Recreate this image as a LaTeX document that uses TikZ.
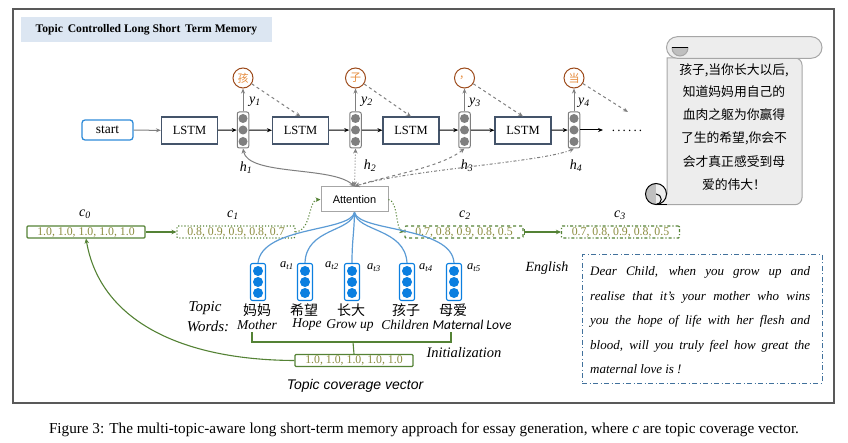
\documentclass[tikz,border=0pt]{standalone}
\usepackage{fontspec}
\setmainfont{Liberation Serif}
\setsansfont{Liberation Sans}
\newfontfamily\cjk{Noto Sans CJK SC}
\newfontfamily\calib{Carlito}
\usetikzlibrary{arrows.meta}

\definecolor{framegray}{HTML}{595959}
\definecolor{titlebg}{HTML}{DCE6F2}
\definecolor{lstmline}{HTML}{44546A}
\definecolor{cellgray}{HTML}{7F7F7F}
\definecolor{outbrown}{HTML}{9C4A1A}
\definecolor{outorange}{HTML}{E58A3A}
\definecolor{startblue}{HTML}{2E8BD8}
\definecolor{topicblue}{HTML}{0B7FE0}
\definecolor{fanblue}{HTML}{5B9BD5}
\definecolor{vecgreen}{HTML}{548235}
\definecolor{vectext}{HTML}{8A8B3E}
\definecolor{engblue}{HTML}{41719C}
\definecolor{scrollfill}{HTML}{EDEDED}
\definecolor{scrolldark}{HTML}{BFBFBF}
\definecolor{scrollline}{HTML}{A6A6A6}
\definecolor{attline}{HTML}{A6A6A6}

% italic symbol with italic subscript
\newcommand{\isub}[2]{\textit{#1}\textsubscript{\textit{#2}}}

\begin{document}
\begin{tikzpicture}[x=1pt,y=-1pt,
  lstm/.style={draw=lstmline, line width=1.1pt, minimum width=56pt, minimum height=27pt, inner sep=0pt, font=\fontsize{12.5}{13}\selectfont},
  startbox/.style={draw=startblue, line width=1.3pt, rounded corners=3pt, minimum width=51pt, minimum height=20pt, inner sep=0pt, font=\fontsize{13.5}{14}\selectfont},
  hcell/.style={draw=cellgray, line width=1pt, rounded corners=2pt, minimum width=11.5pt, minimum height=36pt, inner sep=0pt, fill=white},
  tcell/.style={draw=topicblue, line width=1.1pt, rounded corners=2pt, minimum width=15pt, minimum height=37pt, inner sep=0pt, fill=white},
  outc/.style={circle, draw=outbrown, line width=1pt, minimum size=20pt, inner sep=0pt, text=outorange, font=\cjk\fontsize{11}{11}\selectfont},
  vecbox/.style={draw=vecgreen, line width=1.1pt, rounded corners=1pt, minimum width=118pt, minimum height=12pt, inner sep=0pt, text=vectext, font=\fontsize{11.8}{12}\selectfont},
  attbox/.style={draw=attline, line width=1pt, minimum width=67pt, minimum height=25pt, inner sep=0pt, fill=white, font=\sffamily\fontsize{11}{11}\selectfont},
  blk/.style={-{Stealth[length=5pt,width=4pt]}, line width=1pt, black},
  gry/.style={-{Stealth[length=5pt,width=4pt]}, line width=1pt, cellgray},
  bi/.style={{Stealth[length=5pt,width=4.5pt]}-{Stealth[length=5pt,width=4.5pt]}, line width=1pt, cellgray},
  garrow/.style={-{Stealth[length=5pt,width=4.5pt]}, line width=1.1pt, vecgreen},
  gline/.style={line width=1.1pt, vecgreen},
  fan/.style={line width=1.2pt, fanblue},
  lbl/.style={font=\fontsize{14}{14}\selectfont, inner sep=0pt},
  albl/.style={font=\fontsize{12.5}{13}\selectfont, inner sep=0pt},
  cjkword/.style={font=\cjk\fontsize{14}{14}\selectfont, inner sep=0pt},
  enword/.style={font=\fontsize{13.5}{14}\selectfont\itshape, inner sep=0pt},
  engline/.style={font=\fontsize{13}{13}\selectfont\itshape, inner sep=0pt, anchor=base west},
  scrollline/.style={font=\cjk\fontsize{12.8}{13}\selectfont, inner sep=0pt},
  scroll/.style={draw=scrollline, line width=1pt, fill=scrollfill}
]
\useasboundingbox (0,0) rectangle (848,443);

% outer frame and title
\draw[framegray, line width=1.2pt] (13,9) rectangle (834,403);
\node[fill=titlebg, minimum width=251pt, minimum height=25pt, inner sep=0pt,
      font=\bfseries\fontsize{11.6}{12}\selectfont] (title) at (146.5,29.5)
      {Topic\ \,Controlled Long Short\ \,Term Memory};

% decoder chain
\node[startbox] (start) at (107.5,130) {start};
\node[lstm] (L1) at (189.5,130.5) {LSTM};
\node[hcell] (h1) at (243,130) {};
\node[lstm] (L2) at (300.5,130.5) {LSTM};
\node[hcell] (h2) at (355.5,130) {};
\node[lstm] (L3) at (411,130.5) {LSTM};
\node[hcell] (h3) at (464.5,130) {};
\node[lstm] (L4) at (523,130.5) {LSTM};
\node[hcell] (h4) at (574,130) {};
\foreach \n in {h1,h2,h3,h4}
  \foreach \d in {-11.5,0,11.5}
    \fill[cellgray] ([yshift=\d pt]\n.center) circle (4.5);
\node[font=\fontsize{13}{13}\selectfont, anchor=base, inner sep=0pt] (more) at (627,132) {.\,.\,.\,.\,.\,.};
\coordinate (moreIn) at (603,130);

\draw[gry] (start) -- (L1);
\draw[blk] (L1) -- (h1);
\draw[blk] (h1) -- (L2);
\draw[blk] (L2) -- (h2);
\draw[blk] (h2) -- (L3);
\draw[blk] (L3) -- (h3);
\draw[blk] (h3) -- (L4);
\draw[blk] (L4) -- (h4);
\draw[blk] (h4) -- (moreIn);

% generated characters
\node[outc] (o1) at (243,78) {孩};
\node[outc] (o2) at (355.5,78) {子};
\node[outc] (o3) at (464.5,78) {，};
\node[outc] (o4) at (574,78) {当};
\coordinate (nextIn) at (628,112);
\draw[gry] (h1) -- (o1);
\draw[gry] (h2) -- (o2);
\draw[gry] (h3) -- (o3);
\draw[gry] (h4) -- (o4);
\draw[gry, dashed] (o1) -- (L2.north);
\draw[gry, dashed] (o2) -- (L3.north);
\draw[gry, dashed] (o3) -- (L4.north);
\draw[gry, dashed] (o4) -- (nextIn);

\node[lbl] (ly1) at (255,102) {\isub{y}{1}};
\node[lbl] (ly2) at (367,102) {\isub{y}{2}};
\node[lbl] (ly3) at (475,103) {\isub{y}{3}};
\node[lbl] (ly4) at (584,103) {\isub{y}{4}};
\node[lbl] (lh1) at (246,168) {\isub{h}{1}};
\node[lbl] (lh2) at (370,166) {\isub{h}{2}};
\node[lbl] (lh3) at (467,166) {\isub{h}{3}};
\node[lbl] (lh4) at (576,166) {\isub{h}{4}};

% attention over hidden states
\node[attbox] (att) at (354.5,199.5) {Attention};
\draw[bi] (h1.south) .. controls (248,176) and (332,166) .. (att.north);
\draw[bi, dotted] (h2.south) -- (att.north);
\draw[bi, dashed] (h3.south) .. controls (440,168) and (385,176) .. (att.north);
\draw[bi, dash dot] (h4.south) .. controls (545,162) and (405,170) .. (att.north);

% topic coverage vectors
\node[vecbox] (c0) at (86,232) {1.0, 1.0, 1.0, 1.0, 1.0};
\node[vecbox, dotted] (c1) at (236,232) {0.8, 0.9, 0.9, 0.8, 0.7};
\node[vecbox, dashed] (c2) at (464,232) {0.7, 0.8, 0.9, 0.8, 0.5};
\node[vecbox, dash dot] (c3) at (620.5,232) {0.7, 0.8, 0.9, 0.8, 0.5};
\node[lbl] (lc0) at (85,214) {\isub{c}{0}};
\node[lbl] (lc1) at (233,215) {\isub{c}{1}};
\node[lbl] (lc2) at (465,215) {\isub{c}{2}};
\node[lbl] (lc3) at (620,215) {\isub{c}{3}};
\draw[garrow] (c0) -- (c1);
\draw[garrow, dotted] (c1.east) .. controls (312,230) and (308,200) .. (att.west);
\draw[garrow, dotted] (att.east) .. controls (398,201) and (396,230) .. (c2.west);
\draw[garrow, {Bar[width=6pt]}-{Stealth[length=5pt,width=4.5pt]}] (c2) -- (c3);

% topic word embeddings
\node[tcell] (t1) at (258,282) {};
\node[tcell] (t2) at (305,282) {};
\node[tcell] (t3) at (352,282) {};
\node[tcell] (t4) at (407,282) {};
\node[tcell] (t5) at (454,282) {};
\foreach \n in {t1,t2,t3,t4,t5}
  \foreach \d in {-11,0,11}
    \fill[topicblue] ([yshift=\d pt]\n.center) circle (5);
\draw[fan] (att.south) .. controls (350,232) and (262,226) .. (t1.north);
\draw[fan] (att.south) .. controls (352,232) and (306,228) .. (t2.north);
\draw[fan] (att.south) .. controls (354,235) and (352,240) .. (t3.north);
\draw[fan] (att.south) .. controls (357,232) and (405,228) .. (t4.north);
\draw[fan] (att.south) .. controls (359,232) and (452,226) .. (t5.north);
\node[albl] (a1) at (287,266) {\isub{a}{t1}};
\node[albl] (a2) at (332,266) {\isub{a}{t2}};
\node[albl] (a3) at (374,268) {\isub{a}{t3}};
\node[albl] (a4) at (426,268) {\isub{a}{t4}};
\node[albl] (a5) at (474,268) {\isub{a}{t5}};

\node[cjkword] (w1) at (257,310) {妈妈};
\node[cjkword] (w2) at (304,310) {希望};
\node[cjkword] (w3) at (351,310) {长大};
\node[cjkword] (w4) at (406,310) {孩子};
\node[cjkword] (w5) at (453,310) {母爱};
\node[enword] (m1) at (257,325) {Mother};
\node[enword] (m2) at (307,325) {Hope};
\node[enword] (m3) at (350,325) {Grow up};
\node[enword] (m4) at (405,325) {Children};
\node[enword, font=\calib\itshape\fontsize{13.5}{14}\selectfont] (m5) at (472,325) {Maternal Love};
\node[font=\fontsize{15}{15}\selectfont\itshape, inner sep=0pt] (tw1) at (205,308) {Topic};
\node[font=\fontsize{15}{15}\selectfont\itshape, inner sep=0pt] (tw2) at (208,326) {Words:};

% initialization of the coverage vector
\node[vecbox] (tv) at (354,360.5) {1.0, 1.0, 1.0, 1.0, 1.0};
\draw[gline] (252,332) -- (252,342) -- (451,342) -- (451,332);
\draw[gline] (353,342) -- (tv.north);
\node[font=\fontsize{14.5}{15}\selectfont\itshape, inner sep=0pt] (init) at (464,353) {Initialization};
\node[font=\sffamily\itshape\fontsize{14}{14}\selectfont, inner sep=0pt] (tcv) at (355,386) {Topic coverage vector};
\draw[garrow] (tv.west) .. controls (180,360) and (100,320) .. (c0.south);

% English translation
\node[font=\fontsize{14}{14}\selectfont\itshape, inner sep=0pt] (englab) at (547,268) {English};
\node[draw=engblue, line width=1pt, dash pattern=on 5pt off 2.5pt on 1pt off 2.5pt,
      minimum width=240pt, minimum height=128pt, inner sep=0pt] (eng) at (702,319) {};
\node[engline] (e1) at (590,276) {\makebox[220pt][s]{Dear Child, when you grow up and}};
\node[engline] (e2) at (590,300.5) {\makebox[220pt][s]{realise that it's your mother who wins}};
\node[engline] (e3) at (590,325) {\makebox[220pt][s]{you the hope of life with her flesh and}};
\node[engline] (e4) at (590,349.5) {\makebox[220pt][s]{blood, will you truly feel how great the}};
\node[engline] (e5) at (590,373) {maternal love is !};

% scroll with the generated essay
\draw[scroll] (667,58) -- (667,194) -- (656,194) -- (656,204.7)
  [rounded corners=7pt] -- (802,204.7) -- (802,58) [sharp corners] -- cycle;
% bottom roll: dark left half, light right half, inner curl
\fill[scrolldark] (656,194) circle (10.5);
\begin{scope}
  \clip (656,180) rectangle (670,210);
  \fill[scrollfill] (656,194) circle (10.5);
  \draw[scrollline, line width=1pt] (656,199.25) circle (5.25);
\end{scope}
\draw[scrollline, line width=1pt] (656,194) circle (10.5);
\draw[scrollline, line width=1pt] (656,204.5) -- (667,204.5);
% top roll with its curl
\draw[scroll, rounded corners=10.8pt] (666.5,36.7) rectangle (822,58.3);
\begin{scope}
  \clip (670,48) rectangle (692,62);
  \draw[scroll, fill=scrolldark] (680,48) circle (8);
\end{scope}
\draw[scrollline, line width=1pt] (672,48) -- (688,48);
\node[scrollline] (s1) at (734,70) {孩子,当你长大以后,};
\node[scrollline] (s2) at (734,92) {知道妈妈用自己的};
\node[scrollline] (s3) at (734,115) {血肉之躯为你赢得};
\node[scrollline] (s4) at (734,138) {了生的希望,你会不};
\node[scrollline] (s5) at (734,162) {会才真正感受到母};
\node[scrollline] (s6) at (734,185) {爱的伟大！};

% caption
\node[font=\fontsize{15.2}{16}\selectfont, inner sep=0pt] (cap) at (424,430)
  {Figure 3: The multi-topic-aware long short-term memory approach for essay generation, where \textit{c} are topic coverage vector.};
\end{tikzpicture}
\end{document}
